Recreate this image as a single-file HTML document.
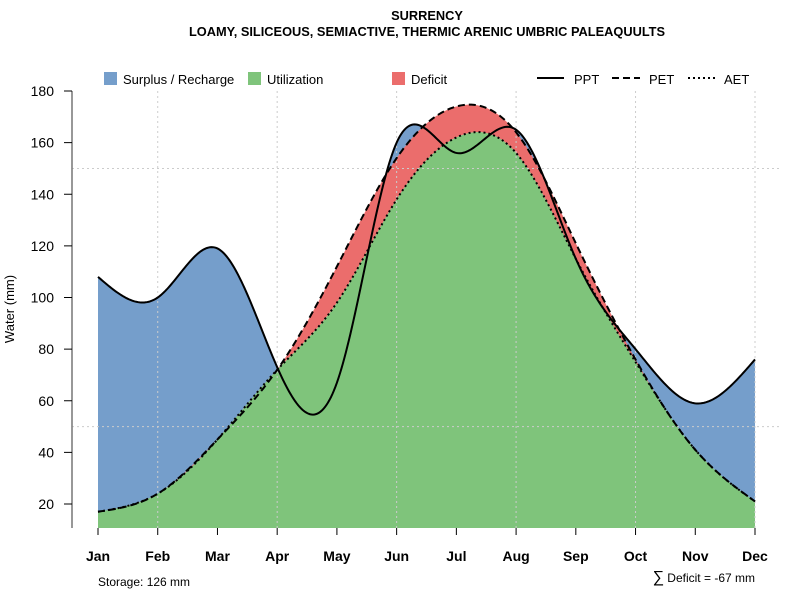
<!DOCTYPE html>
<html><head><meta charset="utf-8"><style>
body{margin:0;background:#fff;font-family:"Liberation Sans",sans-serif}
</style></head><body>
<svg id="chart" width="800" height="600" xmlns="http://www.w3.org/2000/svg" font-family="Liberation Sans, sans-serif">
<text x="427" y="20" text-anchor="middle" font-size="12.8" font-weight="bold">SURRENCY</text>
<text x="427" y="36" text-anchor="middle" font-size="12.8" font-weight="bold">LOAMY, SILICEOUS, SEMIACTIVE, THERMIC ARENIC UMBRIC PALEAQUULTS</text>
<g id="legend" font-size="13">
 <rect x="104" y="72" width="13" height="13" fill="#759ECB"/>
 <text x="123" y="84">Surplus / Recharge</text>
 <rect x="248" y="72" width="13" height="13" fill="#7FC47B"/>
 <text x="267" y="84">Utilization</text>
 <rect x="392" y="72" width="13" height="13" fill="#EB6D6C"/>
 <text x="411" y="84">Deficit</text>
 <line x1="537" y1="78" x2="564" y2="78" stroke="#000" stroke-width="2"/>
 <text x="574" y="84">PPT</text>
 <line x1="612" y1="78" x2="640" y2="78" stroke="#000" stroke-width="2" stroke-dasharray="7,4"/>
 <text x="649" y="84">PET</text>
 <line x1="688" y1="78" x2="716" y2="78" stroke="#000" stroke-width="2" stroke-dasharray="2,3"/>
 <text x="724" y="84">AET</text>
</g>
<g id="plot"></g>
<text transform="translate(14,309) rotate(-90)" text-anchor="middle" font-size="13">Water (mm)</text>
<text x="98" y="586" font-size="12">Storage: 126 mm</text>
<text x="755" y="582" text-anchor="end" font-size="12"><tspan font-size="16">∑</tspan> Deficit = -67 mm</text>
</svg>
<script>
const months=["Jan","Feb","Mar","Apr","May","Jun","Jul","Aug","Sep","Oct","Nov","Dec"];
const ppt=[108,100,119,73,67,160,156,165,115,80,59,76];
const pet=[17,24,45,72,112,154,174,164,121,76,41,21];
const aet=[17,24,45,72,98,138,162,156,115,75,41,21];
const yTicks=[20,40,60,80,100,120,140,160,180];
const NS="http://www.w3.org/2000/svg";
const x0=98,x1=755,yTop=91,yBot=528;
const xs=i=>x0+i*(x1-x0)/11;
const ys=v=>91+(180-v)*(504-91)/160;
function spline(y){const n=y.length,M=new Array(n).fill(0);
 const cp=new Array(n).fill(0),dp=new Array(n).fill(0);
 for(let i=1;i<n-1;i++){const r=6*(y[i+1]-2*y[i]+y[i-1]);const denom=4-cp[i-1];cp[i]=1/denom;dp[i]=(r-dp[i-1])/denom;}
 for(let i=n-2;i>0;i--)M[i]=dp[i]-cp[i]*M[i+1];
 return t=>{let i=Math.min(Math.floor(t),n-2);if(i<0)i=0;const u=t-i;
  return (M[i]*(1-u)**3+M[i+1]*u**3)/6+(y[i]-M[i]/6)*(1-u)+(y[i+1]-M[i+1]/6)*u;};}
const sp=spline(ppt),se=spline(pet),sa=spline(aet);
const N=440,ts=[];for(let k=0;k<=N;k++)ts.push(11*k/N);
const pts=f=>ts.map(t=>[xs(t),ys(f(t))]);
const P=pts(sp),E=pts(se),A=pts(sa);
const str=a=>a.map(p=>p[0].toFixed(2)+","+p[1].toFixed(2)).join(" ");
const g=document.getElementById("plot");
function el(tag,attrs){const e=document.createElementNS(NS,tag);for(const k in attrs)e.setAttribute(k,attrs[k]);g.appendChild(e);return e;}
let e;
e=el("polygon",{points:str(P)+" "+x1+","+yBot+" "+x0+","+yBot,fill:"#759ECB"});


e=el("polygon",{points:str(E)+" "+str(A.slice().reverse()),fill:"#EB6D6C"});


e=el("polygon",{points:str(A)+" "+x1+","+yBot+" "+x0+","+yBot,fill:"#7FC47B"});


[1,3,5,7,9,11].forEach(i=>{e=el("line",{x1:xs(i),x2:xs(i),y1:yTop,y2:yBot,stroke:"#ccc","stroke-dasharray":"2,3"});

});
[50,150].forEach(v=>{e=el("line",{x1:72,x2:782,y1:ys(v),y2:ys(v),stroke:"#ccc","stroke-dasharray":"2,3"});

});
e=el("polyline",{points:str(A),fill:"none",stroke:"#000","stroke-width":2,"stroke-dasharray":"2,3"});


e=el("polyline",{points:str(E),fill:"none",stroke:"#000","stroke-width":2,"stroke-dasharray":"7,4"});


e=el("polyline",{points:str(P),fill:"none",stroke:"#000","stroke-width":2});


e=el("line",{x1:72,x2:72,y1:yTop,y2:yBot,stroke:"#777","stroke-width":1.5});


yTicks.forEach(v=>{e=el("line",{x1:64,x2:72,y1:ys(v),y2:ys(v),stroke:"#000"});


e=el("text",{x:54,y:ys(v)+5,"text-anchor":"end","font-size":14});e.textContent=v;

});
months.forEach((m,i)=>{e=el("line",{x1:xs(i),x2:xs(i),y1:yBot,y2:yBot+7,stroke:"#000"});


e=el("text",{x:xs(i),y:561,"text-anchor":"middle","font-size":14,"font-weight":"bold"});e.textContent=m;

});
</script>
</body></html>
